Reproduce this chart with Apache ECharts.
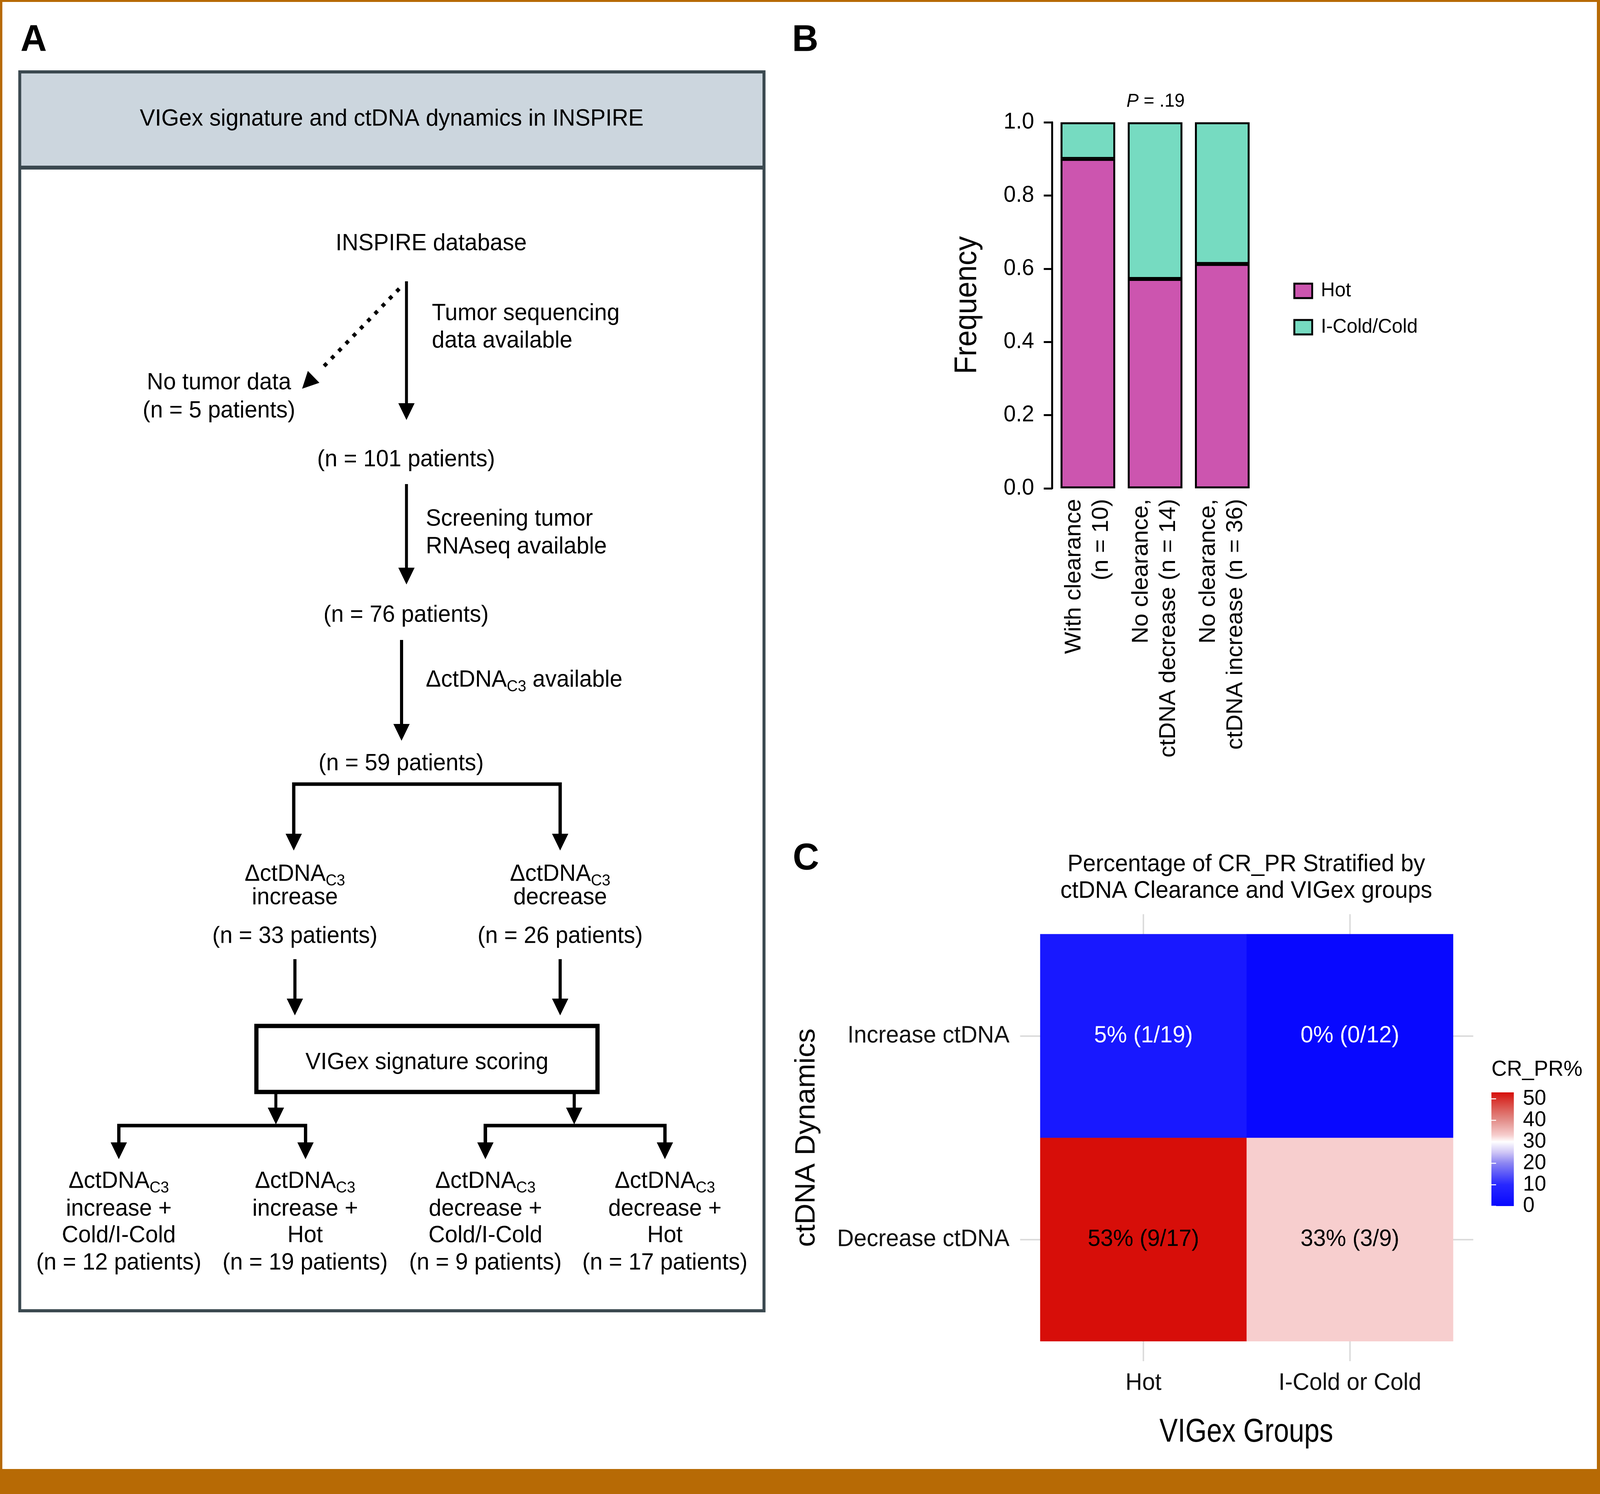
<!DOCTYPE html>
<html>
<head>
<meta charset="utf-8">
<script src="https://cdn.jsdelivr.net/npm/echarts@6/dist/echarts.min.js"></script>
<style>
html,body{margin:0;padding:0;background:#fff;overflow:hidden;}
#c{width:4216px;height:3824px;transform-origin:0 0;}
</style>
</head>
<body>
<div id="c"></div>
<script>
const FONT = "'Liberation Sans', Arial, Helvetica, sans-serif";

// ---------- Panel A (flow chart) data ----------
const flowTitle = 'VIGex signature and ctDNA dynamics in INSPIRE';
const sourceName = 'INSPIRE database';
const excludedCount = 5;
const cohortCounts = [101, 76, 59];
const stepLabels = [['Tumor sequencing', 'data available'], ['Screening tumor', 'RNAseq available'], ['available']];
const branchLabels = ['increase', 'decrease'];
const branchCounts = [33, 26];
const scoringLabel = 'VIGex signature scoring';
const subgroupLabels = [['increase +', 'Cold/I-Cold'], ['increase +', 'Hot'], ['decrease +', 'Cold/I-Cold'], ['decrease +', 'Hot']];
const subgroupCounts = [12, 19, 9, 17];

// ---------- Panel B data ----------
const clearanceGroups = ['With clearance\n(n = 10)', 'No clearance,\nctDNA decrease (n = 14)', 'No clearance,\nctDNA increase (n = 36)'];
const hotFrequency = [0.90, 0.572, 0.613];
const coldFrequency = [0.10, 0.428, 0.387];
const pValue = '.19';

// ---------- Panel C data ----------
const vigexGroups = ['Hot', 'I-Cold or Cold'];
const ctdnaDynamics = ['Decrease ctDNA', 'Increase ctDNA'];
const crPrPercent = [[53, 33], [5, 0]];          // rows follow ctdnaDynamics, columns follow vigexGroups
const crPrCounts = [['9/17', '3/9'], ['1/19', '0/12']];
const legendTicks = [0, 10, 20, 30, 40, 50];
const legendMax = 53;

// ---------- colour scale (style) ----------
const fillStops = [[0, '#0808FF'], [10, '#2828FF'], [20, '#8C86F2'], [25, '#CFC6F6'], [30, '#FFFFFF'],
                   [33, '#F7CECE'], [40, '#E38E8A'], [45, '#DD615B'], [50, '#D8302A'], [53, '#D70E09']];
function hex2rgb(h){return [1,3,5].map(i=>parseInt(h.substr(i,2),16));}
function colorAt(v){
  for(let i=0;i<fillStops.length-1;i++){
    const [v0,c0]=fillStops[i],[v1,c1]=fillStops[i+1];
    if(v>=v0 && v<=v1){
      const t=(v-v0)/(v1-v0), a=hex2rgb(c0), b=hex2rgb(c1);
      return 'rgb('+a.map((x,k)=>Math.round(x+(b[k]-x)*t)).join(',')+')';
    }
  }
  return fillStops[fillStops.length-1][1];
}
const scaleColors = [];
for(let v=0; v<=legendMax; v++) scaleColors.push(colorAt(v));

// ---------- graphic helpers ----------
const G = [];
function txt(x, y, text, o){
  G.push({type:'text', x:x, y:y, z:10, style:Object.assign({text:text, fill:'#000', fontSize:60, fontFamily:FONT, align:'center', verticalAlign:'middle'}, o||{})});
  return G[G.length-1];
}
function seg(x1,y1,x2,y2,w,extra){
  G.push({type:'line', z:5, shape:{x1:x1,y1:y1,x2:x2,y2:y2}, style:Object.assign({stroke:'#000', lineWidth:w||8}, extra||{})});
}
function head(tx, ty, dx, dy, len, half){
  len = len||43; half = half||21.5;
  const bx = tx-dx*len, by = ty-dy*len, px = -dy, py = dx;
  G.push({type:'polygon', z:6, shape:{points:[[tx,ty],[bx+px*half,by+py*half],[bx-px*half,by-py*half]]}, style:{fill:'#000'}});
}
function arrowDown(x, y1, tipY){ seg(x, y1, x, tipY-30, 8); head(x, tipY, 0, 1); }
function bracket(x1, x2, y, tipY){
  G.push({type:'polyline', z:5, shape:{points:[[x1,tipY-30],[x1,y],[x2,y],[x2,tipY-30]]}, style:{stroke:'#000', lineWidth:9, fill:null, lineJoin:'miter'}});
  head(x1, tipY, 0, 1); head(x2, tipY, 0, 1);
}
const deltaRich = {
  m:{fontSize:60, fontFamily:FONT, lineHeight:70, fill:'#000'},
  s:{fontSize:40, fontFamily:FONT, lineHeight:70, fill:'#000', padding:[34,0,0,0]}
};
const DELTA = '{m|\u0394ctDNA}{s|C3}';

// frame
G.push({type:'rect', z:1, shape:{x:0,y:0,width:4216,height:5}, style:{fill:'#B76A05'}});
G.push({type:'rect', z:1, shape:{x:0,y:0,width:6,height:3824}, style:{fill:'#B76A05'}});
G.push({type:'rect', z:1, shape:{x:4208,y:0,width:8,height:3824}, style:{fill:'#B76A05'}});
G.push({type:'rect', z:1, shape:{x:0,y:3760,width:4216,height:64}, style:{fill:'#B76A05'}});

// panel letters
txt(54, 104, 'A', {align:'left', fontSize:96, fontWeight:'bold'});
txt(2087, 104, 'B', {align:'left', fontSize:96, fontWeight:'bold'});
txt(2089, 2199, 'C', {align:'left', fontSize:96, fontWeight:'bold'});

// Panel A boxes
G.push({type:'rect', z:2, shape:{x:52,y:184,width:1961,height:245}, style:{fill:'#CCD6DE', stroke:'#1F2B33', lineWidth:8}});
G.push({type:'rect', z:2, shape:{x:52,y:184,width:1961,height:3171}, style:{fill:null, stroke:'#3B4950', lineWidth:8}});
seg(52, 429, 2013, 429, 10, {stroke:'#3B4950'});
txt(1032, 305, flowTitle);

// flow
txt(1136, 624, sourceName);
arrowDown(1071, 720, 1075);
seg(1052, 739, 842, 949, 10, {lineDash:[10,17], lineCap:'butt'});
head(796, 995, -Math.SQRT1_2, Math.SQRT1_2);
txt(1138, 803, stepLabels[0][0], {align:'left'});
txt(1138, 873, stepLabels[0][1], {align:'left'});
txt(577, 980, 'No tumor data');
txt(577, 1052, '(n = ' + excludedCount + ' patients)');
txt(1070, 1177, '(n = ' + cohortCounts[0] + ' patients)');
arrowDown(1071, 1239, 1496);
txt(1122, 1329, stepLabels[1][0], {align:'left'});
txt(1122, 1400, stepLabels[1][1], {align:'left'});
txt(1070, 1575, '(n = ' + cohortCounts[1] + ' patients)');
arrowDown(1058, 1638, 1896);
txt(1122, 1741, DELTA + '{m| ' + stepLabels[2][0] + '}', {align:'left', rich:deltaRich});
txt(1057, 1955, '(n = ' + cohortCounts[2] + ' patients)');
bracket(774, 1476, 2007, 2177);
const branchX = [777, 1476];
branchX.forEach((x,i)=>{
  txt(x, 2238, DELTA, {rich:deltaRich});
  txt(x, 2298, branchLabels[i]);
  txt(x, 2397, '(n = ' + branchCounts[i] + ' patients)');
  arrowDown(x, 2455, 2599);
});
G.push({type:'rect', z:5, shape:{x:675.5,y:2626,width:899,height:169}, style:{fill:'#fff', stroke:'#000', lineWidth:11}});
txt(1125, 2720, scoringLabel);
arrowDown(727, 2800, 2878);
arrowDown(1513, 2800, 2878);
bracket(313, 805, 2881, 2967);
bracket(1279, 1752, 2881, 2967);
const subX = [313, 804, 1279, 1752];
subX.forEach((x,i)=>{
  txt(x, 3024, DELTA, {rich:deltaRich});
  txt(x, 3095, subgroupLabels[i][0]);
  txt(x, 3163, subgroupLabels[i][1]);
  txt(x, 3233, '(n = ' + subgroupCounts[i] + ' patients)');
});

// Panel B texts
const fq = txt(2549, 781, 'Frequency', {fontSize:83});
fq.rotation = Math.PI/2; fq.scaleX = 0.9;
txt(3045, 260, '{i|P}{r| = ' + pValue + '}', {fontSize:48, rich:{i:{fontSize:48, fontStyle:'italic', fontFamily:FONT, fill:'#000'}, r:{fontSize:48, fontFamily:FONT, fill:'#000'}}});

// Panel C texts
txt(3284, 2213, 'Percentage of CR_PR Stratified by', {fontSize:61});
txt(3284, 2281, 'ctDNA Clearance and VIGex groups', {fontSize:61});
const cd = txt(2126, 2912, 'ctDNA Dynamics', {fontSize:74});
cd.rotation = Math.PI/2;
const vg = txt(3284, 3667, 'VIGex Groups', {fontSize:84});
vg.scaleX = 0.86;
txt(3930, 2738, 'CR_PR%', {fontSize:56, align:'left'});

// heatmap data
const heatData = [];
crPrPercent.forEach((row, yi)=>row.forEach((v, xi)=>{
  heatData.push({value:[xi, yi, v], label:{color: v < 15 ? '#FFFFFF' : '#000000'}});
}));

const gridTick = {show:true, alignWithLabel:true, length:51, lineStyle:{color:'#DCDCDC', width:4}};
const barStops = fillStops.map(s=>({offset:s[0]/legendMax, color:s[1]}));

const option = {
  animation:false,
  backgroundColor:'#FFFFFF',
  textStyle:{fontFamily:FONT},
  grid:[
    {left:2778, top:313, width:531, height:937},
    {left:2741, top:2391, width:1088, height:1042},
    {left:3930, top:2796, width:59, height:291, show:true, borderWidth:0,
     backgroundColor:new echarts.graphic.LinearGradient(0,1,0,0, barStops)}
  ],
  xAxis:[
    {gridIndex:0, type:'category', data:clearanceGroups, axisLine:{show:false}, axisTick:{show:false},
     axisLabel:{rotate:90, margin:27, fontSize:60, lineHeight:72, color:'#000', fontFamily:FONT, interval:0}},
    {gridIndex:1, type:'category', data:vigexGroups, position:'bottom', axisLine:{show:false}, axisTick:gridTick,
     axisLabel:{margin:77, fontSize:61, color:'#111', fontFamily:FONT}, splitLine:{show:false}},
    {gridIndex:1, type:'category', data:vigexGroups, position:'top', axisLine:{show:false}, axisTick:gridTick,
     axisLabel:{show:false}, splitLine:{show:false}},
    {gridIndex:2, type:'value', show:false}
  ],
  yAxis:[
    {gridIndex:0, type:'value', min:0, max:1, interval:0.2, offset:6,
     axisLine:{show:true, lineStyle:{color:'#000', width:5}},
     axisTick:{show:true, length:22, lineStyle:{color:'#000', width:5}},
     axisLabel:{margin:47, fontSize:58, color:'#000', fontFamily:FONT, formatter:v=>v.toFixed(1)},
     splitLine:{show:false}},
    {gridIndex:1, type:'category', data:ctdnaDynamics, position:'left', axisLine:{show:false},
     axisTick:Object.assign({}, gridTick, {length:53}),
     axisLabel:{margin:81, fontSize:61, color:'#111', fontFamily:FONT}, splitLine:{show:false}},
    {gridIndex:1, type:'category', data:ctdnaDynamics, position:'right', axisLine:{show:false},
     axisTick:Object.assign({}, gridTick, {length:53}), axisLabel:{show:false}, splitLine:{show:false}},
    {gridIndex:2, type:'value', min:0, max:legendMax, position:'right', z:10, axisLine:{show:false},
     axisTick:{show:true, inside:true, length:12, customValues:legendTicks, lineStyle:{color:'#FFFFFF', width:2.5}},
     axisLabel:{margin:24, fontSize:55, color:'#000', fontFamily:FONT, customValues:legendTicks},
     splitLine:{show:false}},
    {gridIndex:2, type:'value', min:0, max:legendMax, position:'left', z:10, axisLine:{show:false},
     axisTick:{show:true, inside:true, length:12, customValues:legendTicks, lineStyle:{color:'#FFFFFF', width:2.5}},
     axisLabel:{show:false}, splitLine:{show:false}}
  ],
  legend:{
    data:['Hot','I-Cold/Cold'], orient:'vertical', left:3408, top:719, padding:0,
    itemWidth:47, itemHeight:37, itemGap:42, icon:'rect', selectedMode:false,
    itemStyle:{borderColor:'#000', borderWidth:5},
    textStyle:{fontSize:51, color:'#000', fontFamily:FONT, lineHeight:37, padding:[0,0,0,18]}
  },
  visualMap:[{type:'continuous', show:false, seriesIndex:2, dimension:2, min:0, max:legendMax, inRange:{color:scaleColors}}],
  series:[
    {name:'Hot', type:'bar', stack:'freq', xAxisIndex:0, yAxisIndex:0, data:hotFrequency, barWidth:144,
     itemStyle:{color:'#CC55AF', borderColor:'#000', borderWidth:5}},
    {name:'I-Cold/Cold', type:'bar', stack:'freq', xAxisIndex:0, yAxisIndex:0, data:coldFrequency, barWidth:144,
     itemStyle:{color:'#76DBC1', borderColor:'#000', borderWidth:5}},
    {name:'CR_PR%', type:'heatmap', xAxisIndex:1, yAxisIndex:1, data:heatData,
     label:{show:true, fontSize:60, fontFamily:FONT,
       formatter:p=>p.value[2] + '% (' + crPrCounts[p.value[1]][p.value[0]] + ')'},
     itemStyle:{borderWidth:0}, emphasis:{disabled:true}}
  ],
  graphic:{elements:G}
};

// The design is laid out on a 4216 x 3824 page; fit it to the actual viewport.
const el = document.getElementById('c');
const sx = (window.innerWidth || 4216) / 4216, sy = (window.innerHeight || 3824) / 3824;
if (Math.abs(sx - 1) > 0.001 || Math.abs(sy - 1) > 0.001) {
  el.style.transform = 'scale(' + sx + ',' + sy + ')';
}
const chart = echarts.init(el, null, {renderer:'canvas', devicePixelRatio: 2});
chart.setOption(option);
</script>
</body>
</html>
